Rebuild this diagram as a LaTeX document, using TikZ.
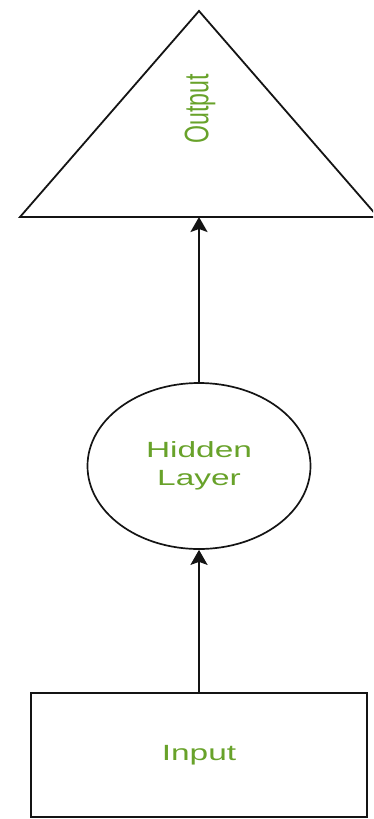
\documentclass[tikz,border=0pt]{standalone}
\usepackage{fontspec}
\usepackage{xcolor}
\usepackage{tikz}
\usetikzlibrary{shapes.geometric, arrows.meta, positioning, calc}
\definecolor{NNGreen}{RGB}{104, 162, 42}
\definecolor{NNLine}{RGB}{20, 20, 20}
\newfontfamily\nnfont[FakeStretch=1.52]{Liberation Sans}
\newfontfamily\nnfontrot[FakeStretch=0.68]{Liberation Sans}

\begin{document}
\begin{tikzpicture}[x=1pt, y=-1pt,
  layertext/.style={text=NNGreen, font=\nnfont\fontsize{22}{28}\selectfont, align=center},
  layerbox/.style={draw=NNLine, line width=2pt, minimum width=336pt, minimum height=124pt},
  layerellipse/.style={ellipse, draw=NNLine, line width=1.7pt, minimum width=223pt, minimum height=166pt, inner sep=0pt},
  feed/.style={draw=NNLine, line width=2.2pt, -{Stealth[length=15pt, width=17pt, inset=3pt]}}]
  \useasboundingbox (0,0) rectangle (373,819);
  \clip (0,0) rectangle (373,819);

  % output triangle, its right corner runs off the page
  \coordinate (outtop) at (199,11);
  \coordinate (outleft) at (20,217);
  \coordinate (outright) at (378,217);
  \coordinate (outbase) at ($(outleft)!0.5!(outright)$);
  \draw[NNLine, line width=1.8pt] (outleft) -- (outtop) -- (outright) -- cycle;
  \node[text=NNGreen, font=\nnfontrot\fontsize{34}{34}\selectfont, rotate=90] (output) at (200,109) {Output};

  \node[layerellipse, layertext] (hidden) at (199,466) {Hidden\\Layer};
  \node[layerbox, layertext] (input) at (199,755) {Input};

  \draw[feed] (input.north) -- (hidden.south);
  \draw[feed] (hidden.north) -- (outbase);
\end{tikzpicture}
\end{document}
